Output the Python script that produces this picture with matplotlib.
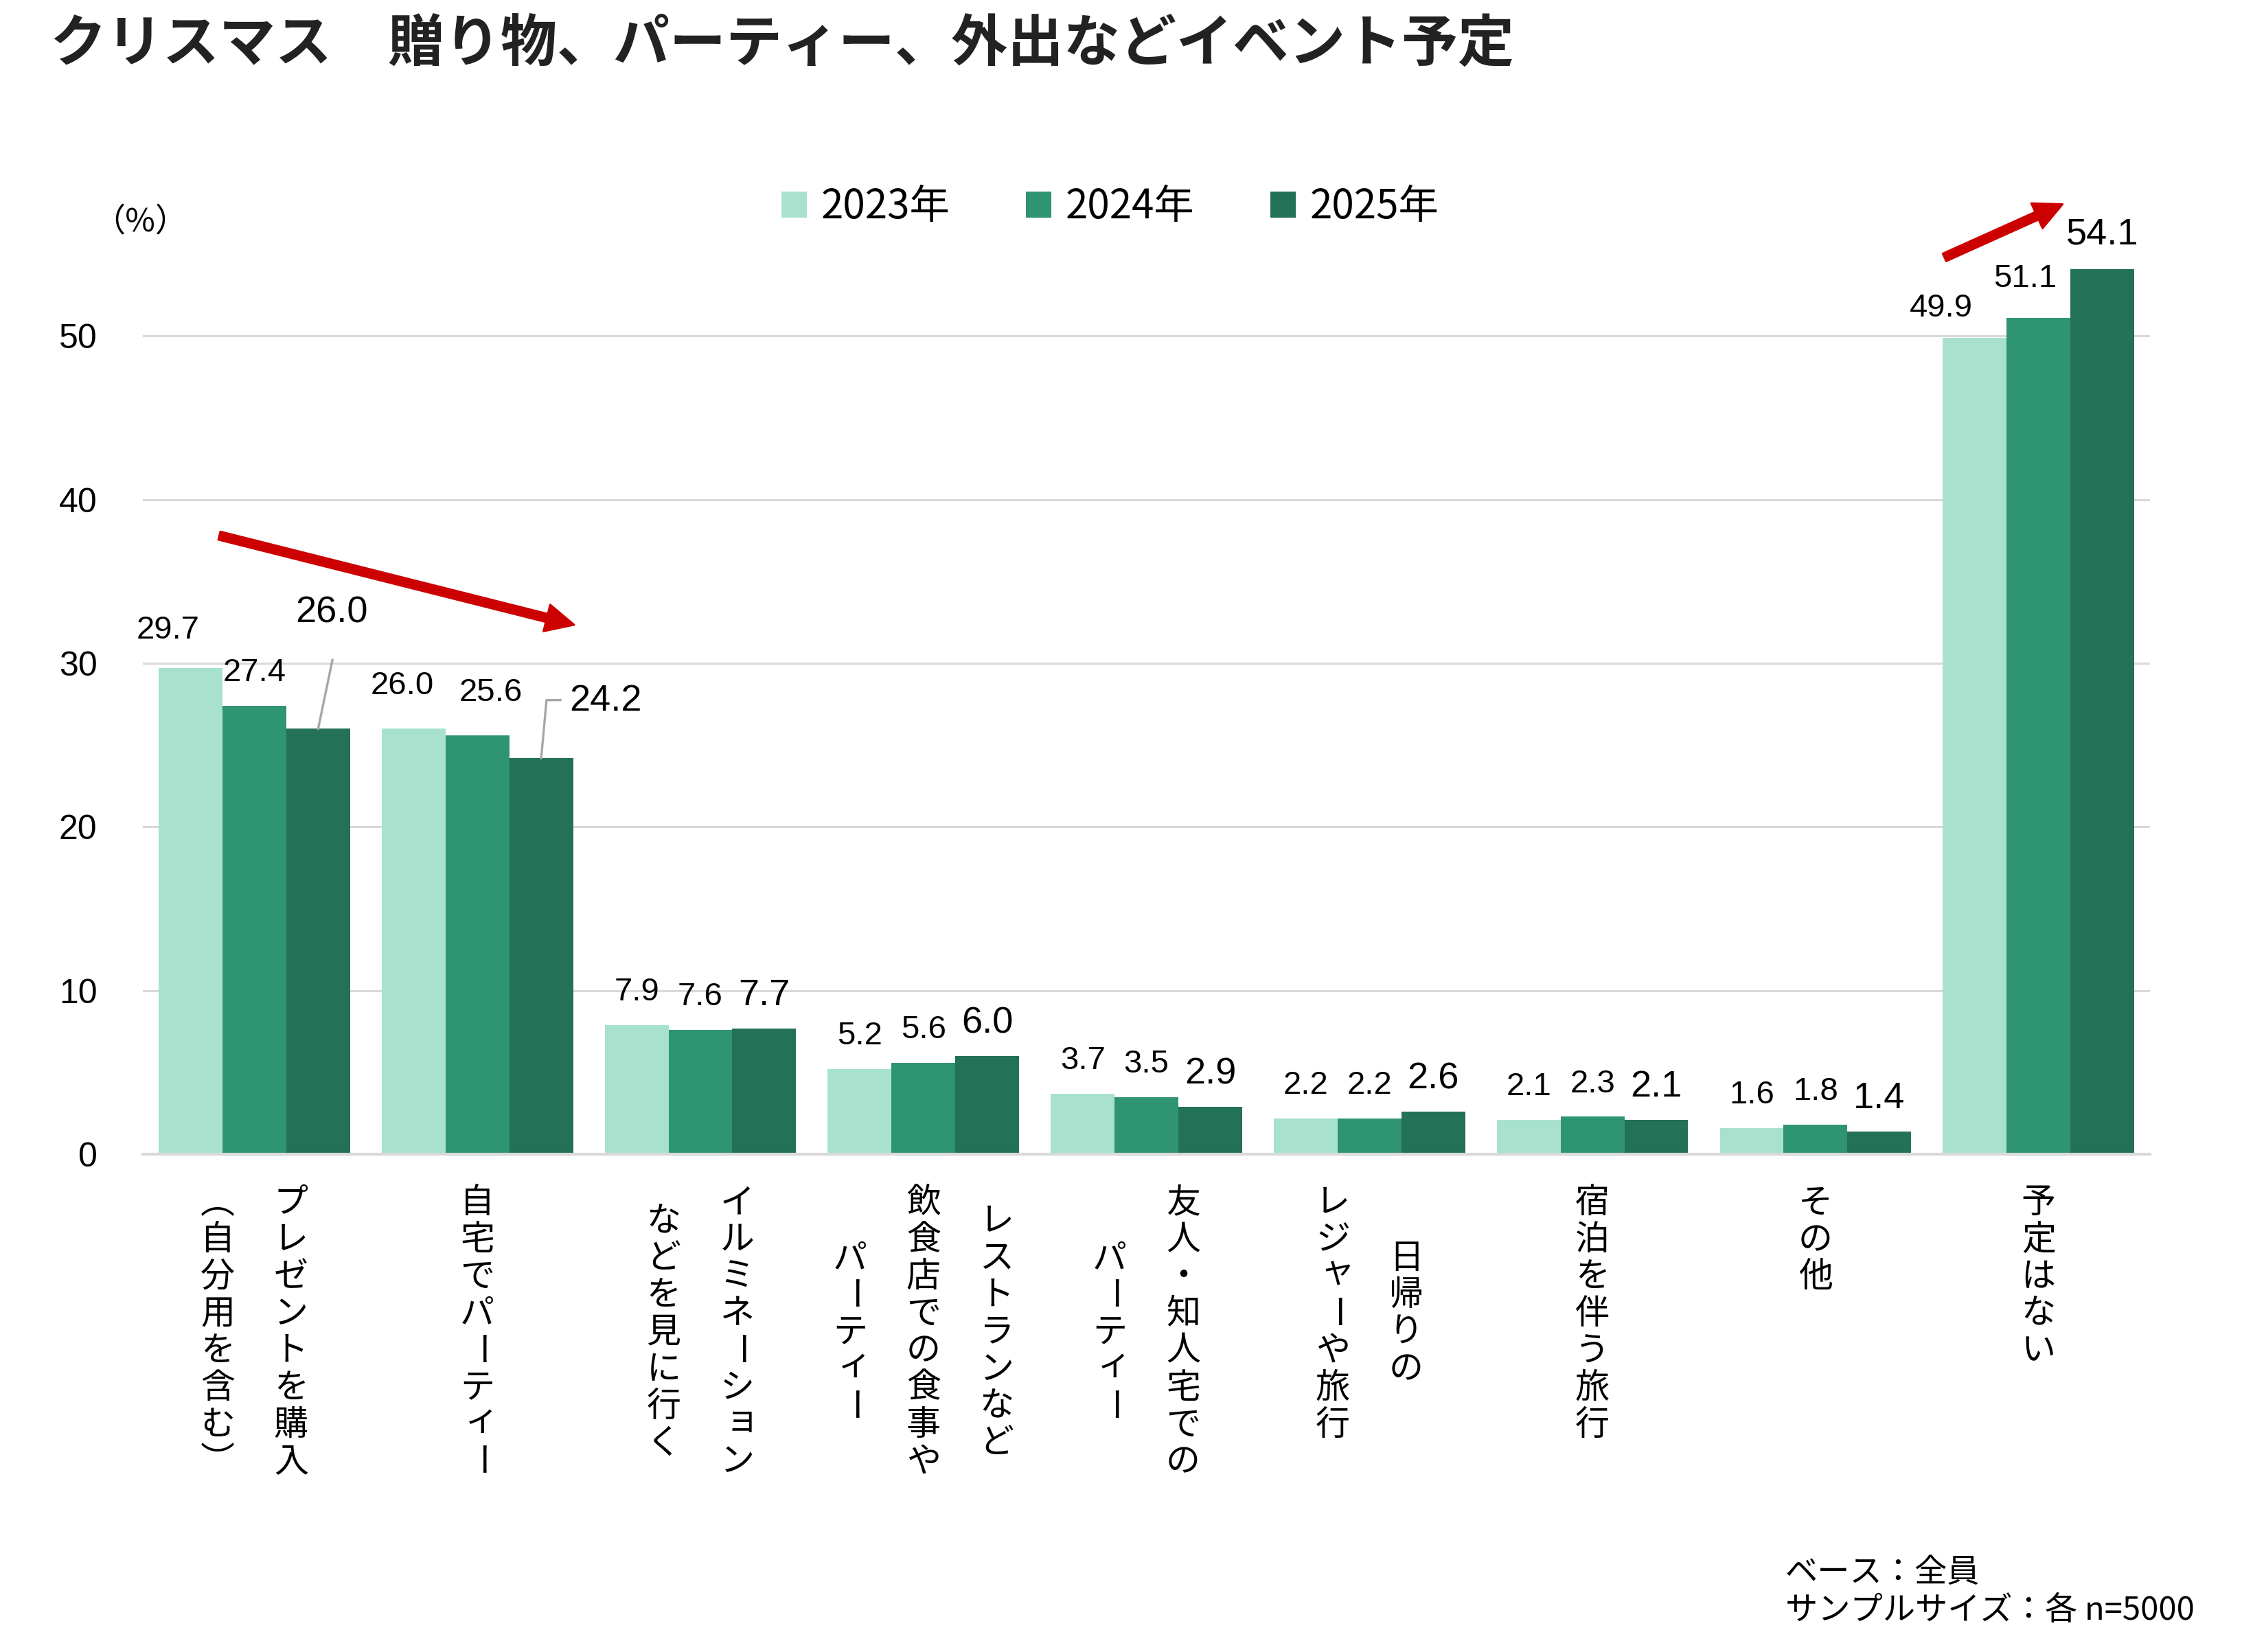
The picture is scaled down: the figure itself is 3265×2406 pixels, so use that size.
import numpy as np
import matplotlib.pyplot as plt
from matplotlib.patches import Patch
from matplotlib.transforms import ScaledTranslation

plt.rcParams['font.family'] = ['Noto Sans CJK JP', 'DejaVu Sans']

# data
category_lines = [
    ['プレゼントを購入', '（自分用を含む）'],
    ['自宅でパーティー'],
    ['イルミネーション', 'などを見に行く'],
    ['レストランなど', '飲食店での食事や', 'パーティー'],
    ['友人・知人宅での', 'パーティー'],
    ['日帰りの', 'レジャーや旅行'],
    ['宿泊を伴う旅行'],
    ['その他'],
    ['予定はない'],
]
years = ['2023年', '2024年', '2025年']
values_2023 = [29.7, 26.0, 7.9, 5.2, 3.7, 2.2, 2.1, 1.6, 49.9]
values_2024 = [27.4, 25.6, 7.6, 5.6, 3.5, 2.2, 2.3, 1.8, 51.1]
values_2025 = [26.0, 24.2, 7.7, 6.0, 2.9, 2.6, 2.1, 1.4, 54.1]
y_ticks = [0, 10, 20, 30, 40, 50]

colors = ['#A8E2CF', '#2F9472', '#237156']
label_sizes = [17, 17, 19.5]
num_font = ['Liberation Sans', 'DejaVu Sans']
bar_width = 0.286

# label tweaks (series, category) -> (dx, dy) in data units
label_tweaks = {
    (0, 0): (-0.10, 2.3), (2, 0): (0.06, 7.1),
    (0, 1): (-0.05, 2.6), (1, 1): (0.06, 2.6), (2, 1): (0.29, 3.5),
    (0, 8): (-0.15, 1.8), (1, 8): (-0.06, 2.4), (2, 8): (0.0, 2.1),
}

fig = plt.figure(figsize=(16.33, 12.03), dpi=200)
ax = fig.add_axes([0.0637, 0.3013, 0.895, 0.5944])

x = np.arange(len(category_lines))
series = [values_2023, values_2024, values_2025]
for s, vals in enumerate(series):
    xs = x + (s - 1) * bar_width
    ax.bar(xs, vals, width=bar_width, color=colors[s], zorder=3)
    for c, v in enumerate(vals):
        dx, dy = label_tweaks.get((s, c), (0.0, 2.0))
        ax.text(xs[c] + dx, v + dy, f'{v:.1f}', ha='center', va='center',
                fontsize=label_sizes[s], family=num_font, zorder=5)

# leader lines for moved labels
bx = x[0] + bar_width
ax.plot([bx, bx + 0.064], [values_2025[0], values_2025[0] + 4.2],
        color='#A6A6A6', lw=1.2, zorder=4)
bx = x[1] + bar_width
ax.plot([bx, bx + 0.024, bx + 0.086],
        [values_2025[1], values_2025[1] + 3.55, values_2025[1] + 3.55],
        color='#A6A6A6', lw=1.2, zorder=4)

# red trend arrows
arrow_style = 'simple,head_length=0.74,head_width=0.72,tail_width=0.22'
ax.annotate('', xy=(1.434, 32.35), xytext=(-0.157, 37.8),
            arrowprops=dict(arrowstyle=arrow_style, color='#CC0000',
                            mutation_scale=20, shrinkA=0, shrinkB=0),
            annotation_clip=False)
ax.annotate('', xy=(8.108, 58.05), xytext=(7.578, 54.8),
            arrowprops=dict(arrowstyle=arrow_style, color='#CC0000',
                            mutation_scale=20, shrinkA=0, shrinkB=0),
            annotation_clip=False)

ax.set_xlim(-0.5, len(category_lines) - 0.5)
ax.set_ylim(0, 60)
ax.set_yticks(y_ticks)
ax.set_yticklabels([str(t) for t in y_ticks], family=num_font, fontsize=18)
ax.set_xticks([])
ax.tick_params(axis='y', length=0, pad=24)
ax.yaxis.grid(True, color='#D9D9D9', lw=1.1, zorder=0)
for side in ['top', 'right', 'left']:
    ax.spines[side].set_visible(False)
ax.spines['bottom'].set_color('#D9D9D9')
ax.spines['bottom'].set_linewidth(1.5)
ax.spines['bottom'].set_zorder(4)

# vertical (tategaki) category labels
pitch = 19.4
col_gap = 38.5
top_offset = 25.6
small_kana = 'ィャョッュァ'
vertical_forms = {'（': '\ufe35', '）': '\ufe36'}
for c, lines in enumerate(category_lines):
    n = len(lines)
    maxlen = max(len(l) for l in lines)
    for i, line in enumerate(lines):
        dx = ((n - 1) / 2 - i) * col_gap
        start = (maxlen - len(line)) / 2
        for j, ch in enumerate(line):
            dy = -(top_offset + (start + j) * pitch)
            rot = -90 if ch == 'ー' else 0
            sx, sy = (2.5, 2.5) if ch in small_kana else (0, 0)
            trans = ax.get_xaxis_transform() + ScaledTranslation(
                (dx + sx) / 72, (dy + sy) / 72, fig.dpi_scale_trans)
            ax.text(x[c], 0, vertical_forms.get(ch, ch), transform=trans,
                    ha='center', va='center', rotation=rot, fontsize=18,
                    clip_on=False)

# title, unit, legend, footnote
fig.text(0.0223, 0.973, 'クリスマス　贈り物、パーティー、外出などイベント予定',
         fontsize=29.5, fontweight='bold', color='#222222', va='center')
fig.text(0.0625, 0.8658, '（%）', fontsize=17, ha='center', va='center')

handles = [Patch(facecolor=colors[s], edgecolor='none') for s in range(3)]
fig.legend(handles, years, loc='center', bbox_to_anchor=(0.495, 0.8745),
           ncol=3, frameon=False, fontsize=21, handlelength=0.63,
           handleheight=0.63, handletextpad=0.35, columnspacing=1.9)

fig.text(0.796, 0.048, 'ベース：全員', fontsize=17, va='center')
fig.text(0.796, 0.025, 'サンプルサイズ：各 n=5000', fontsize=17, va='center')

fig.savefig('out.png', dpi=200)
